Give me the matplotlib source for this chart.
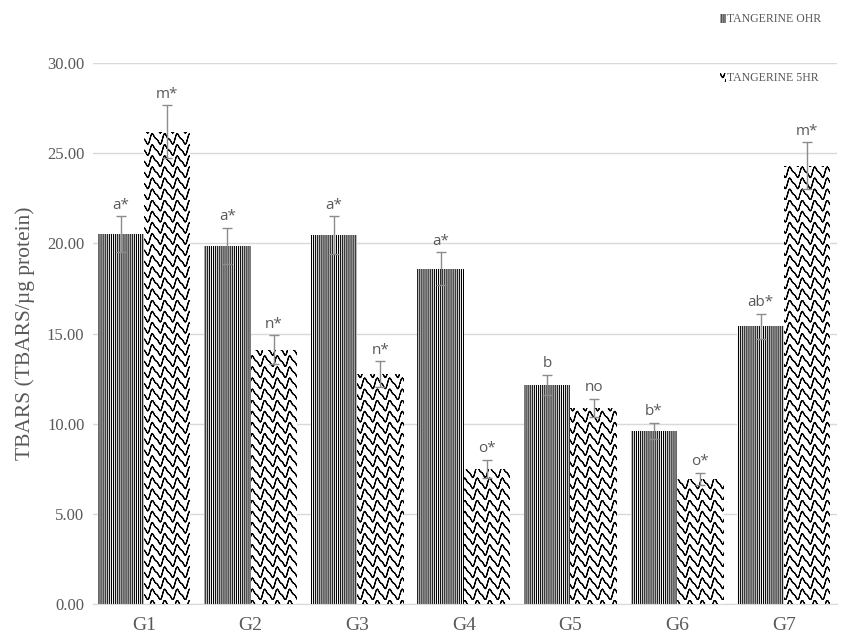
import numpy as np
import matplotlib
matplotlib.use("Agg")
import matplotlib.pyplot as plt
import matplotlib.hatch as mhatch

groups = ["G1", "G2", "G3", "G4", "G5", "G6", "G7"]
ohr = [20.5, 19.85, 20.45, 18.6, 12.15, 9.6, 15.4]
hr5 = [26.2, 14.1, 12.75, 7.5, 10.87, 6.93, 24.3]
ohr_err = [1.0, 1.0, 1.05, 0.9, 0.55, 0.45, 0.7]
hr5_err = [1.45, 0.8, 0.7, 0.5, 0.5, 0.35, 1.3]
ohr_lab = ["a*", "a*", "a*", "a*", "b", "b*", "ab*"]
hr5_lab = ["m*", "n*", "n*", "o*", "no", "o*", "m*"]
yticks = [0, 5, 10, 15, 20, 25, 30]


# wavy "scale" hatch, used in place of the small circles pattern ('o')
# each wave is traced forward and back so the hatch fill adds no area
class WaveHatch(mhatch.HatchPatternBase):
    rows = 9
    periods = 8
    pts = 129

    def __init__(self, hatch, density):
        self.n = 1 if 'o' in hatch else 0
        self.num_vertices = self.n * self.rows * self.pts * 2

    def set_vertices_and_codes(self, vertices, codes):
        x = np.linspace(0, 1, self.pts)
        th = 2 * np.pi * self.periods * x
        d = 1.0 / self.rows
        k = 0
        m = 2 * self.pts
        for i in range(self.rows):
            y = (i + 0.5) * d + 0.4 * d * np.sin(th) + 0.15 * d * np.sin(2 * th)
            vertices[k:k + m, 0] = np.concatenate([x, x[::-1]])
            vertices[k:k + m, 1] = np.concatenate([y, y[::-1]])
            codes[k] = 1
            codes[k + 1:k + m] = 2
            k += m


mhatch._hatch_types[mhatch._hatch_types.index(mhatch.SmallCircles)] = WaveHatch
plt.rcParams["hatch.linewidth"] = 0.8

fig = plt.figure(figsize=(8.43, 6.32), dpi=100)
ax = fig.add_axes([0.110, 0.0443, 0.883, 0.856])

x = np.arange(len(groups))
w = 0.435
gray = "#595959"

b1 = ax.bar(x - w / 2, ohr, w, color="white", edgecolor="black", linewidth=0,
            hatch="||||||||", label="TANGERINE OHR", zorder=2)
b2 = ax.bar(x + w / 2, hr5, w, color="white", edgecolor="black", linewidth=0,
            hatch="o", label="TANGERINE 5HR", zorder=2)

ax.errorbar(x - w / 2, ohr, yerr=ohr_err, fmt="none", ecolor="#8c8c8c",
            elinewidth=1.0, capsize=3.5, capthick=1.0, zorder=3)
ax.errorbar(x + w / 2, hr5, yerr=hr5_err, fmt="none", ecolor="#8c8c8c",
            elinewidth=1.0, capsize=3.5, capthick=1.0, zorder=3)

for xi, v, e, t in zip(x - w / 2, ohr, ohr_err, ohr_lab):
    ax.text(xi, v + e + 0.2, t, ha="center", va="bottom", fontsize=11,
            color=gray, family="Open Sans")
for xi, v, e, t in zip(x + w / 2, hr5, hr5_err, hr5_lab):
    ax.text(xi, v + e + 0.2, t, ha="center", va="bottom", fontsize=11,
            color=gray, family="Open Sans")

ax.set_xlim(-0.48, 6.5)
ax.set_ylim(0, 30)
ax.set_yticks(yticks)
ax.set_yticklabels(["%.2f" % v for v in yticks], family="Liberation Serif",
                   fontsize=12, color=gray)
ax.set_xticks(x)
ax.set_xticklabels(groups, family="Liberation Serif", fontsize=14, color=gray)
ax.tick_params(length=0)
ax.tick_params(axis="y", pad=6)
ax.tick_params(axis="x", pad=9)
ax.grid(axis="y", color="#d9d9d9", linewidth=1.0, zorder=0)
ax.set_axisbelow(True)
for s in ["top", "right", "left"]:
    ax.spines[s].set_visible(False)
ax.spines["bottom"].set_color("#d9d9d9")
ax.set_ylabel("TBARS (TBARS/µg protein)", family="Liberation Serif",
              fontsize=15.5, color=gray)
ax.yaxis.set_label_coords(-0.077, 0.5)

leg = fig.legend(handles=[b1, b2], loc="upper left", bbox_to_anchor=(0.842, 0.996),
                 frameon=False, handlelength=0.45, handleheight=0.8,
                 handletextpad=0.1, labelspacing=4.0,
                 prop={"family": "Liberation Serif", "size": 8.5})
for t in leg.get_texts():
    t.set_color(gray)

fig.savefig("out.png", dpi=100)
